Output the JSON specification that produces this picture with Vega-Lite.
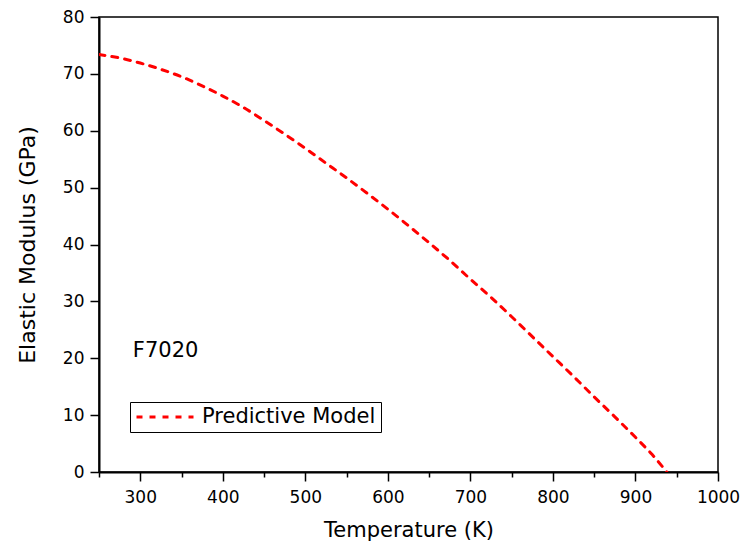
{
  "$schema": "https://vega.github.io/schema/vega-lite/v6.json",
  "width": 619,
  "height": 455,
  "autosize": {"type": "none"},
  "padding": {"left": 99, "top": 17, "right": 23, "bottom": 74},
  "background": "white",
  "config": {
    "font": "DejaVu Sans",
    "view": {"stroke": "black", "strokeWidth": 1.5}
  },
  "layer": [
    {
      "data": {
        "values": [
          {"T": 250, "E": 73.4, "series": "Predictive Model"},
          {"T": 275, "E": 72.8, "series": "Predictive Model"},
          {"T": 300, "E": 71.9, "series": "Predictive Model"},
          {"T": 325, "E": 70.8, "series": "Predictive Model"},
          {"T": 350, "E": 69.5, "series": "Predictive Model"},
          {"T": 375, "E": 67.9, "series": "Predictive Model"},
          {"T": 400, "E": 66.1, "series": "Predictive Model"},
          {"T": 425, "E": 64.1, "series": "Predictive Model"},
          {"T": 450, "E": 61.8, "series": "Predictive Model"},
          {"T": 475, "E": 59.4, "series": "Predictive Model"},
          {"T": 500, "E": 56.9, "series": "Predictive Model"},
          {"T": 525, "E": 54.3, "series": "Predictive Model"},
          {"T": 550, "E": 51.7, "series": "Predictive Model"},
          {"T": 575, "E": 49.0, "series": "Predictive Model"},
          {"T": 600, "E": 46.2, "series": "Predictive Model"},
          {"T": 625, "E": 43.3, "series": "Predictive Model"},
          {"T": 650, "E": 40.3, "series": "Predictive Model"},
          {"T": 675, "E": 37.2, "series": "Predictive Model"},
          {"T": 700, "E": 33.9, "series": "Predictive Model"},
          {"T": 725, "E": 30.7, "series": "Predictive Model"},
          {"T": 750, "E": 27.3, "series": "Predictive Model"},
          {"T": 775, "E": 23.8, "series": "Predictive Model"},
          {"T": 800, "E": 20.3, "series": "Predictive Model"},
          {"T": 825, "E": 16.8, "series": "Predictive Model"},
          {"T": 850, "E": 13.2, "series": "Predictive Model"},
          {"T": 875, "E": 9.7, "series": "Predictive Model"},
          {"T": 900, "E": 6.1, "series": "Predictive Model"},
          {"T": 920, "E": 3.1, "series": "Predictive Model"},
          {"T": 938, "E": 0, "series": "Predictive Model"}
        ]
      },
      "mark": {"type": "line", "strokeWidth": 3, "strokeDash": [6, 7], "strokeCap": "round", "interpolate": "monotone", "clip": true},
      "encoding": {
        "x": {
          "field": "T", "type": "quantitative",
          "scale": {"domain": [250, 1000], "nice": false, "zero": false},
          "axis": {
            "title": "Temperature (K)",
            "format": "d",
            "values": [250, 300, 350, 400, 450, 500, 550, 600, 650, 700, 750, 800, 850, 900, 950, 1000],
            "labelExpr": "datum.value % 100 === 0 ? datum.label : ''",
            "tickSize": {"condition": {"test": "datum.value % 100 === 0", "value": 9}, "value": 5},
            "tickColor": "black", "tickWidth": 1.5,
            "domainColor": "black", "domainWidth": 2,
            "grid": false,
            "labelFontSize": 17, "labelColor": "black", "labelPadding": 8, "labelFont": "DejaVu Sans",
            "titleFontSize": 21, "titleFontWeight": "normal", "titleColor": "black", "titlePadding": 14, "titleFont": "DejaVu Sans",
            "labelFlush": false, "labelOverlap": false
          }
        },
        "y": {
          "field": "E", "type": "quantitative",
          "scale": {"domain": [0, 80], "nice": false},
          "axis": {
            "title": "Elastic Modulus (GPa)",
            "values": [0, 5, 10, 15, 20, 25, 30, 35, 40, 45, 50, 55, 60, 65, 70, 75, 80],
            "labelExpr": "datum.value % 10 === 0 ? datum.label : ''",
            "tickSize": {"condition": {"test": "datum.value % 10 === 0", "value": 9}, "value": 5},
            "tickColor": "black", "tickWidth": 1.5,
            "domainColor": "black", "domainWidth": 2,
            "grid": false,
            "labelFontSize": 17, "labelColor": "black", "labelPadding": 6, "labelFont": "DejaVu Sans",
            "titleFontSize": 22, "titleFontWeight": "normal", "titleColor": "black", "titlePadding": 23, "titleFont": "DejaVu Sans",
            "labelFlush": false, "labelOverlap": false
          }
        },
        "color": {
          "field": "series", "type": "nominal",
          "scale": {"domain": ["Predictive Model"], "range": ["#ff0000"]},
          "legend": {
            "title": null,
            "orient": "none",
            "legendX": 31,
            "legendY": 385,
            "direction": "vertical",
            "strokeColor": "black",
            "fillColor": "white",
            "padding": 5,
            "clipHeight": 20,
            "symbolType": "stroke",
            "symbolSize": 3249,
            "symbolStrokeWidth": 3,
            "symbolDash": [6, 7],
            "labelFontSize": 21,
            "labelFont": "DejaVu Sans",
            "labelColor": "black",
            "labelOffset": 7,
            "labelLimit": 400
          }
        }
      }
    },
    {
      "data": {"values": [{"T": 291, "E": 20.3, "label": "F7020"}]},
      "mark": {"type": "text", "align": "left", "baseline": "alphabetic", "fontSize": 21, "font": "DejaVu Sans", "color": "black"},
      "encoding": {
        "x": {"field": "T", "type": "quantitative"},
        "y": {"field": "E", "type": "quantitative"},
        "text": {"field": "label"}
      }
    }
  ]
}
